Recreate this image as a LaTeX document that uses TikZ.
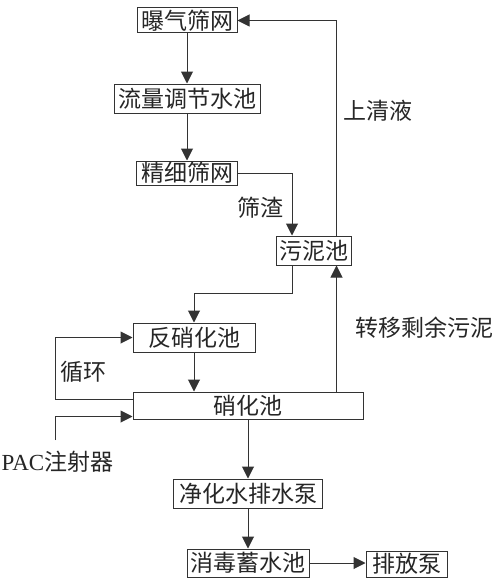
\documentclass[tikz,border=0pt]{standalone}
\usepackage{fontspec}
\setmainfont{Liberation Serif}
\newfontfamily\cjk{Noto Sans CJK SC}
\usetikzlibrary{arrows.meta,calc}
\begin{document}
\begin{tikzpicture}[x=1pt,y=-1pt,
  box/.style={draw=black!80, line width=1pt, inner sep=0pt, font=\cjk\fontsize{23}{23}\selectfont, text=black!85},
  lbl/.style={inner sep=0pt, font=\cjk\fontsize{23}{23}\selectfont, text=black!85},
  conn/.style={draw=black!80, line width=1pt, -{Triangle[width=12pt,length=12pt]}}]
\fill[white] (0,0) rectangle (500,586);
\useasboundingbox (0,0) rectangle (500,586);
% boxes
\node[box, minimum width=100pt, minimum height=25pt] (baoqi) at (187,20.5) {曝气筛网};
\node[box, minimum width=146pt, minimum height=29pt] (liuliang) at (187,98.5) {流量调节水池};
\node[box, minimum width=101pt, minimum height=24pt] (jingxi) at (187,173) {精细筛网};
\node[box, minimum width=75pt, minimum height=29pt] (wuni) at (313.5,250.5) {污泥池};
\node[box, minimum width=122pt, minimum height=29pt] (fanxiao) at (194,337.5) {反硝化池};
\node[box, minimum width=230pt, minimum height=27pt] (xiao) at (248,405.5) {硝化池};
\node[box, minimum width=149pt, minimum height=29pt] (jinghua) at (248,493.5) {净化水排水泵};
\node[box, minimum width=122pt, minimum height=28pt] (xiaodu) at (248,563) {消毒蓄水池};
\node[box, minimum width=81pt, minimum height=26pt] (paifang) at (406.5,564) {排放泵};
% labels
\node[lbl] (shangqing) at (377.5,111) {上清液};
\node[lbl] (shaizha) at (260,208) {筛渣};
\node[lbl] (zhuanyi) at (424,328) {转移剩余污泥};
\node[lbl] (xunhuan) at (83,372) {循环};
\node[lbl] (paclbl) at (57.5,462) {{\rmfamily PAC}注射器};
% helper coordinates
\coordinate (rx) at (336.5,0);
\coordinate (lx) at (292,0);
\coordinate (bendy) at (0,293);
\coordinate (loopx) at (55,0);
\coordinate (pac) at (55,440);
\coordinate (loopout) at ($(xiao.west)+(0,-6.5)$);
\coordinate (pacin) at ($(xiao.west)+(0,11)$);
% connectors
\draw[conn] (baoqi) -- (liuliang);
\draw[conn] (liuliang) -- (jingxi);
\draw[conn] (jingxi.east) -| (wuni.north -| lx);
\draw[conn] (wuni.north -| rx) |- (baoqi.east);
\draw[conn] (wuni.south -| lx) |- (bendy -| fanxiao) -- (fanxiao.north);
\draw[conn] (fanxiao.south) -- (fanxiao.south |- xiao.north);
\draw[conn] (loopout) -| (loopx |- fanxiao.west) -- (fanxiao.west);
\draw[conn] (pac) |- (pacin);
\draw[conn] (xiao.north -| rx) -- (wuni.south -| rx);
\draw[conn] (xiao) -- (jinghua);
\draw[conn] (jinghua) -- (xiaodu);
\draw[conn] (xiaodu.east) -- (xiaodu.east -| paifang.west);
\end{tikzpicture}
\end{document}
